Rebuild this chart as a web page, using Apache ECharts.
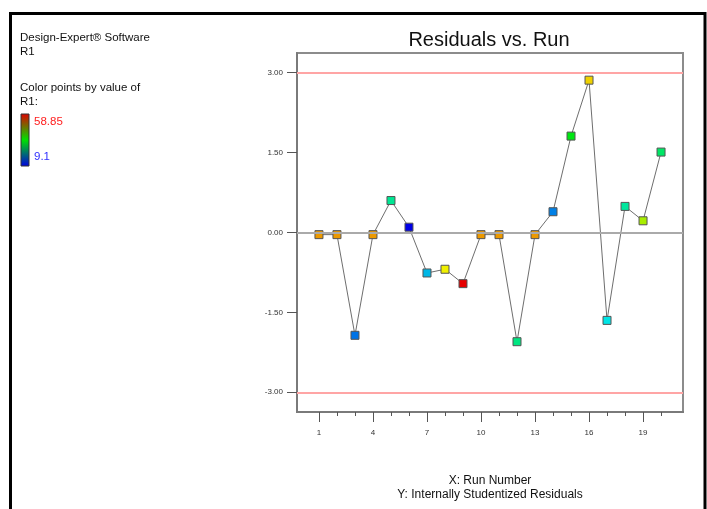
<!DOCTYPE html>
<html>
<head>
<meta charset="utf-8">
<script src="https://cdn.jsdelivr.net/npm/echarts@6/dist/echarts.min.js"></script>
<style>
html,body{margin:0;padding:0;background:#fff;}
#c{width:707px;height:509px;}
</style>
</head>
<body>
<div id="c"></div>
<script>
// ---- data ----
var runs = [1,2,3,4,5,6,7,8,9,10,11,12,13,14,15,16,17,18,19,20];
var residuals = [-0.04,-0.04,-1.93,-0.04,0.60,0.10,-0.76,-0.69,-0.96,-0.04,-0.04,-2.05,-0.04,0.39,1.81,2.86,-1.65,0.49,0.22,1.51];
var r1Values = [50.9,50.9,15.3,50.9,26,9.1,19,46.4,58.85,50.9,50.9,27,50.9,16,33,48,21.5,25.5,42.7,28.5];
var r1Min = 9.1, r1Max = 58.85;
var yTicks = [-3.00,-1.50,0.00,1.50,3.00];
var xLabelTicks = [1,4,7,10,13,16,19];
var xMinorTicks = [1,2,3,4,5,6,7,8,9,10,11,12,13,14,15,16,17,18,19,20];
var limitLines = [3.00,-3.00];
var centerLine = 0.00;

var FONT = '"Liberation Sans", Arial, sans-serif';
var lineData = runs.map(function(r,i){return [r,residuals[i]];});
var ptData = runs.map(function(r,i){return [r,residuals[i],r1Values[i]];});

var grid = {left:297,right:24,top:53,bottom:97,show:true,borderColor:'#8c8c8c',borderWidth:2};
var xBase = {type:'value',min:-0.22,max:21.22,gridIndex:0,position:'bottom',splitLine:{show:false},
  axisLine:{show:true,onZero:false,lineStyle:{color:'#7a7a7a',width:2}}};

var chart = echarts.init(document.getElementById('c'),null,{renderer:'canvas'});
chart.setOption({
  animation:false,
  backgroundColor:'#fff',
  grid:grid,
  xAxis:[
    Object.assign({},xBase,{
      axisTick:{show:true,customValues:xLabelTicks,length:10,lineStyle:{color:'#555',width:1}},
      axisLabel:{show:true,customValues:xLabelTicks,fontSize:8,color:'#333',fontFamily:FONT,margin:17}
    }),
    Object.assign({},xBase,{
      axisTick:{show:true,customValues:xMinorTicks,length:4,lineStyle:{color:'#555',width:1}},
      axisLabel:{show:false}
    })
  ],
  yAxis:{type:'value',min:-3.37,max:3.37,splitLine:{show:false},
    axisLine:{show:true,onZero:false,lineStyle:{color:'#7a7a7a',width:2}},
    axisTick:{show:true,customValues:yTicks,length:10,lineStyle:{color:'#555',width:1}},
    axisLabel:{show:true,customValues:yTicks,fontSize:8,color:'#333',fontFamily:FONT,margin:14,
      formatter:function(v){return v.toFixed(2);}}
  },
  visualMap:{show:false,type:'continuous',seriesIndex:1,dimension:2,min:r1Min,max:r1Max,
    inRange:{color:['#0000e6','#00e6e6','#00e600','#f0f000','#e60000']}},
  series:[
    {type:'line',data:lineData,symbol:'none',z:2,
      lineStyle:{color:'#6e6e6e',width:1},
      markLine:{silent:true,symbol:'none',label:{show:false},
        data:[
          {yAxis:limitLines[0],lineStyle:{color:'#ffa5a5',width:2,type:'solid'}},
          {yAxis:limitLines[1],lineStyle:{color:'#ffa5a5',width:2,type:'solid'}},
          {yAxis:centerLine,lineStyle:{color:'#aaaaaa',width:2,type:'solid'}}
        ]}
    },
    {type:'scatter',data:ptData,symbol:'rect',symbolSize:8,z:3,
      itemStyle:{borderColor:'#555',borderWidth:1,opacity:1}}
  ],
  graphic:[
    {type:'polyline',shape:{points:[[10.5,509],[10.5,13.5],[705,13.5],[705,509]]},style:{stroke:'#000',lineWidth:3,fill:null}},
    {type:'text',style:{text:'Residuals vs. Run',x:489,y:40,align:'center',verticalAlign:'middle',font:'20px '+FONT,fill:'#111'}},
    {type:'text',style:{text:'Design-Expert® Software',x:20,y:38,verticalAlign:'middle',font:'11.5px '+FONT,fill:'#111'}},
    {type:'text',style:{text:'R1',x:20,y:52,verticalAlign:'middle',font:'11.5px '+FONT,fill:'#111'}},
    {type:'text',style:{text:'Color points by value of',x:20,y:88,verticalAlign:'middle',font:'11.5px '+FONT,fill:'#111'}},
    {type:'text',style:{text:'R1:',x:20,y:102,verticalAlign:'middle',font:'11.5px '+FONT,fill:'#111'}},
    {type:'rect',shape:{x:21,y:114,width:8,height:52},style:{stroke:'#333',lineWidth:1,
      fill:new echarts.graphic.LinearGradient(0,0,0,1,[{offset:0,color:'#e00000'},{offset:0.5,color:'#00e000'},{offset:1,color:'#0000e0'}])}},
    {type:'text',style:{text:'58.85',x:34,y:122,verticalAlign:'middle',font:'11.5px '+FONT,fill:'#ff2020'}},
    {type:'text',style:{text:'9.1',x:34,y:157,verticalAlign:'middle',font:'11.5px '+FONT,fill:'#3030ff'}},
    {type:'text',style:{text:'X: Run Number',x:490,y:481,align:'center',verticalAlign:'middle',font:'12px '+FONT,fill:'#111'}},
    {type:'text',style:{text:'Y: Internally Studentized Residuals',x:490,y:495,align:'center',verticalAlign:'middle',font:'12px '+FONT,fill:'#111'}}
  ]
});
</script>
</body>
</html>
